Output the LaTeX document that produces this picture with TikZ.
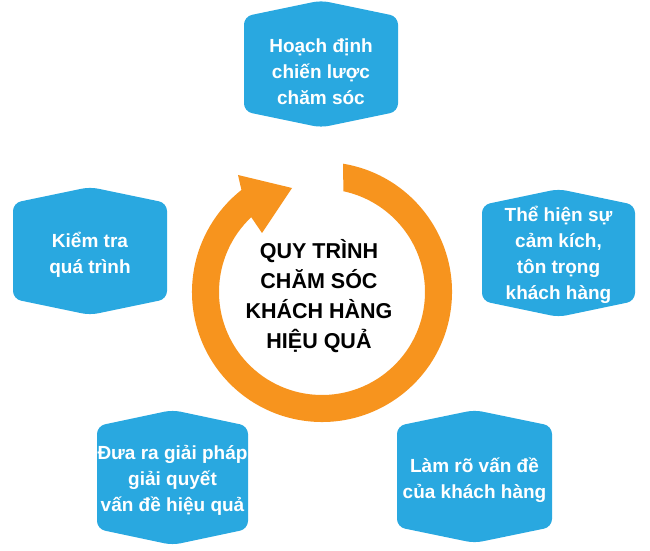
\documentclass[tikz,border=0pt]{standalone}
\usepackage{fontspec}
\setmainfont{Liberation Sans}
\usetikzlibrary{calc}
\definecolor{boxblue}{RGB}{41,168,224}
\definecolor{ringorange}{RGB}{247,148,30}
% hexagon centred at (#1,#2), width #3, height #4
\newcommand\hexshape[4]{%
  \fill[boxfill] ({#1-#3/2},{#2+#4/2-16}) -- (#1,{#2+#4/2}) -- ({#1+#3/2},{#2+#4/2-16})
    -- ({#1+#3/2},{#2-#4/2+16}) -- (#1,{#2-#4/2}) -- ({#1-#3/2},{#2-#4/2+16}) -- cycle;}
\begin{document}
\begin{tikzpicture}[x=1pt,y=1pt,
  boxfill/.style={fill=boxblue, rounded corners=8pt},
  boxtext/.style={inner sep=0pt, align=center, text=white, font=\fontsize{19}{26}\selectfont\bfseries},
  centertext/.style={align=center, text=black, font=\fontsize{21.5}{30}\selectfont\bfseries}
]
\useasboundingbox (0,0) rectangle (650,551);

% ring with arrow
\begin{scope}[shift={(322,259)}]
\fill[ringorange] (80.7:130) arc[start angle=80.7, end angle=-231.7, radius=130]
  -- (-84,117) -- (-30,104) -- (-60,59)
  -- (-226.6:103) arc[start angle=-226.6, end angle=78, radius=103] -- cycle;
\end{scope}

\node[centertext] (center) at (319,255) {QUY TRÌNH\\CHĂM SÓC\\KHÁCH HÀNG\\HIỆU QUẢ};

\hexshape{321}{487}{154}{127}
\node[boxtext] (plan) at (321,479) {Hoạch định\\chiến lược\\chăm sóc};
\hexshape{90}{300}{154}{128}
\node[boxtext] (check) at (90,296.5) {Kiểm tra\\quá trình};
\hexshape{558.5}{298}{153}{128}
\node[boxtext] (respect) at (558.5,296) {Thể hiện sự\\cảm kích,\\tôn trọng\\khách hàng};
\hexshape{172.5}{73.5}{151}{135}
\node[boxtext] (solve) at (172.5,71) {Đưa ra giải pháp\\giải quyết\\vấn đề hiệu quả};
\hexshape{474.5}{74.5}{155}{133}
\node[boxtext] (clarify) at (474.5,71) {Làm rõ vấn đề\\của khách hàng};
\end{tikzpicture}
\end{document}
